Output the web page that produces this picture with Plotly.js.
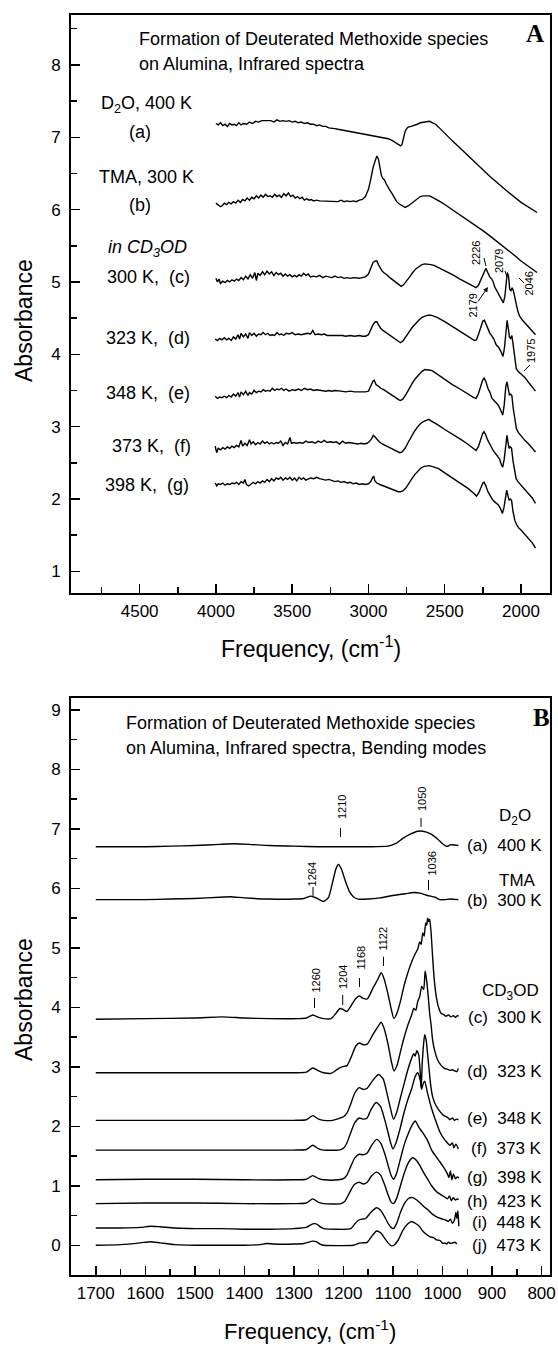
<!DOCTYPE html>
<html>
<head>
<meta charset="utf-8">
<script src="https://cdn.plot.ly/plotly-3.0.1.min.js"></script>
<style>html,body{margin:0;padding:0;background:#fff;}#chart{width:558px;height:1347px;}</style>
</head>
<body>
<div id="chart"></div>
<script>
// ---------------- Panel A data: [wavenumber cm-1, absorbance] ----------------
const A_a = [[4000,7.19],[3985,7.17],[3970,7.20],[3955,7.16],[3940,7.18],[3925,7.15],[3910,7.19],[3895,7.17],[3880,7.18],[3865,7.16],[3850,7.20],[3835,7.17],[3820,7.19],[3800,7.18],[3780,7.21],[3760,7.19],[3740,7.22],[3720,7.21],[3700,7.23],[3680,7.23],[3660,7.24],[3640,7.23],[3620,7.21],[3600,7.24],[3580,7.22],[3560,7.23],[3540,7.22],[3520,7.23],[3500,7.21],[3480,7.22],[3460,7.20],[3440,7.21],[3420,7.19],[3400,7.20],[3380,7.18],[3360,7.18],[3340,7.16],[3320,7.17],[3300,7.15],[3280,7.15],[3260,7.13],[3240,7.13],[3220,7.12],[3200,7.11],[3150,7.09],[3100,7.07],[3050,7.05],[3000,7.03],[2950,7.01],[2900,7.00],[2870,6.98],[2840,6.95],[2820,6.92],[2800,6.89],[2790,6.88],[2780,6.90],[2770,6.99],[2760,7.08],[2750,7.12],[2740,7.14],[2720,7.15],[2700,7.16],[2680,7.18],[2660,7.20],[2640,7.21],[2620,7.22],[2600,7.22],[2580,7.20],[2560,7.18],[2540,7.14],[2500,7.05],[2450,6.95],[2400,6.85],[2300,6.65],[2200,6.45],[2100,6.27],[2000,6.10],[1895,5.96]];
const A_b = [[4000,6.09],[3985,6.06],[3970,6.04],[3960,6.05],[3945,6.09],[3930,6.07],[3915,6.10],[3900,6.08],[3885,6.11],[3870,6.09],[3855,6.13],[3840,6.10],[3825,6.14],[3810,6.12],[3795,6.16],[3780,6.13],[3765,6.17],[3750,6.15],[3735,6.19],[3720,6.16],[3705,6.20],[3690,6.17],[3675,6.21],[3660,6.18],[3645,6.19],[3630,6.17],[3615,6.21],[3600,6.18],[3585,6.20],[3570,6.17],[3555,6.22],[3540,6.19],[3525,6.23],[3510,6.18],[3495,6.20],[3480,6.16],[3465,6.18],[3450,6.15],[3435,6.17],[3420,6.13],[3405,6.15],[3390,6.13],[3375,6.14],[3360,6.12],[3340,6.13],[3320,6.12],[3300,6.12],[3280,6.11],[3260,6.12],[3240,6.11],[3220,6.12],[3200,6.11],[3180,6.13],[3160,6.11],[3140,6.12],[3120,6.11],[3100,6.12],[3080,6.11],[3060,6.13],[3040,6.14],[3020,6.18],[3000,6.28],[2985,6.42],[2970,6.58],[2955,6.68],[2945,6.74],[2935,6.70],[2925,6.58],[2915,6.47],[2905,6.43],[2895,6.41],[2885,6.36],[2875,6.33],[2860,6.27],[2845,6.22],[2830,6.16],[2815,6.11],[2800,6.08],[2780,6.05],[2760,6.03],[2740,6.05],[2720,6.08],[2700,6.12],[2680,6.15],[2660,6.18],[2640,6.19],[2620,6.19],[2600,6.19],[2580,6.17],[2560,6.15],[2530,6.11],[2500,6.07],[2450,6.00],[2400,5.93],[2350,5.86],[2300,5.79],[2250,5.71],[2200,5.63],[2150,5.55],[2100,5.46],[2050,5.38],[2000,5.29],[1950,5.21],[1895,5.13]];
const A_c = [[4000,5.05],[3990,5.00],[3980,5.04],[3970,4.98],[3955,5.01],[3940,4.99],[3925,5.02],[3910,5.00],[3895,5.03],[3880,5.01],[3865,5.04],[3850,5.02],[3835,5.06],[3820,5.03],[3805,5.08],[3790,5.04],[3775,5.10],[3760,5.05],[3745,5.13],[3735,5.02],[3725,5.12],[3710,5.09],[3695,5.14],[3680,5.10],[3665,5.15],[3650,5.11],[3635,5.14],[3620,5.09],[3605,5.13],[3590,5.10],[3575,5.12],[3560,5.08],[3545,5.11],[3530,5.08],[3515,5.10],[3500,5.07],[3485,5.09],[3470,5.07],[3455,5.10],[3440,5.08],[3425,5.12],[3410,5.09],[3395,5.11],[3380,5.07],[3360,5.08],[3340,5.07],[3320,5.09],[3300,5.06],[3280,5.08],[3260,5.07],[3240,5.06],[3220,5.08],[3200,5.06],[3180,5.07],[3160,5.05],[3140,5.06],[3120,5.05],[3100,5.06],[3080,5.05],[3060,5.05],[3040,5.06],[3020,5.07],[3000,5.11],[2985,5.20],[2970,5.27],[2955,5.29],[2945,5.29],[2935,5.24],[2925,5.20],[2910,5.15],[2895,5.12],[2880,5.10],[2860,5.06],[2840,5.03],[2820,4.99],[2800,4.96],[2785,4.94],[2770,4.96],[2750,5.01],[2730,5.07],[2710,5.13],[2690,5.18],[2670,5.21],[2650,5.24],[2630,5.25],[2610,5.25],[2590,5.24],[2570,5.23],[2550,5.21],[2500,5.16],[2450,5.10],[2400,5.04],[2350,4.98],[2320,4.95],[2295,4.92],[2280,4.95],[2265,5.02],[2250,5.10],[2238,5.17],[2230,5.19],[2218,5.13],[2205,5.07],[2192,5.04],[2182,5.00],[2172,4.93],[2162,4.89],[2150,4.86],[2140,4.80],[2125,4.74],[2116,4.71],[2106,4.80],[2097,5.00],[2090,5.13],[2082,5.08],[2074,4.90],[2066,4.88],[2058,4.92],[2050,4.88],[2040,4.80],[2030,4.68],[2020,4.59],[2010,4.53],[1990,4.47],[1965,4.41],[1940,4.35],[1905,4.27]];
const A_d = [[4005,4.21],[3990,4.19],[3975,4.22],[3960,4.20],[3945,4.23],[3930,4.20],[3915,4.22],[3900,4.19],[3885,4.24],[3870,4.21],[3855,4.27],[3845,4.21],[3835,4.29],[3820,4.24],[3805,4.28],[3790,4.22],[3780,4.30],[3765,4.26],[3750,4.29],[3735,4.25],[3720,4.28],[3705,4.27],[3690,4.30],[3675,4.27],[3660,4.29],[3645,4.26],[3630,4.27],[3615,4.26],[3600,4.30],[3585,4.27],[3570,4.28],[3555,4.26],[3540,4.29],[3520,4.28],[3500,4.30],[3480,4.27],[3460,4.28],[3440,4.27],[3420,4.28],[3400,4.29],[3380,4.28],[3365,4.33],[3350,4.27],[3330,4.28],[3310,4.27],[3290,4.28],[3270,4.26],[3250,4.26],[3230,4.27],[3210,4.26],[3190,4.27],[3170,4.26],[3150,4.25],[3120,4.26],[3090,4.25],[3060,4.26],[3040,4.25],[3020,4.25],[3000,4.27],[2985,4.34],[2970,4.41],[2955,4.45],[2945,4.45],[2935,4.41],[2920,4.36],[2905,4.33],[2885,4.30],[2860,4.26],[2840,4.23],[2820,4.20],[2800,4.17],[2790,4.16],[2775,4.18],[2750,4.25],[2730,4.32],[2710,4.38],[2690,4.43],[2670,4.47],[2650,4.51],[2630,4.53],[2610,4.54],[2590,4.54],[2570,4.53],[2550,4.51],[2500,4.45],[2450,4.38],[2400,4.31],[2350,4.25],[2305,4.19],[2292,4.20],[2278,4.28],[2264,4.38],[2250,4.46],[2240,4.47],[2230,4.42],[2217,4.33],[2204,4.29],[2190,4.25],[2178,4.21],[2163,4.13],[2148,4.10],[2132,4.04],[2118,3.97],[2108,4.10],[2098,4.38],[2091,4.47],[2083,4.35],[2076,4.24],[2068,4.22],[2060,4.26],[2051,4.12],[2041,3.95],[2031,3.80],[2018,3.76],[2000,3.73],[1975,3.68],[1950,3.61],[1925,3.55],[1905,3.49]];
const A_e = [[4005,3.42],[3990,3.39],[3975,3.41],[3960,3.40],[3945,3.42],[3930,3.40],[3915,3.43],[3900,3.41],[3885,3.45],[3870,3.42],[3855,3.47],[3845,3.41],[3835,3.48],[3820,3.44],[3805,3.49],[3790,3.43],[3780,3.47],[3765,3.45],[3750,3.50],[3735,3.47],[3720,3.49],[3705,3.48],[3690,3.51],[3675,3.49],[3660,3.50],[3645,3.49],[3630,3.53],[3615,3.50],[3600,3.52],[3585,3.51],[3570,3.53],[3555,3.50],[3540,3.52],[3520,3.49],[3500,3.51],[3480,3.50],[3460,3.52],[3440,3.50],[3420,3.53],[3400,3.51],[3380,3.52],[3360,3.50],[3340,3.51],[3320,3.50],[3300,3.50],[3280,3.49],[3260,3.50],[3240,3.49],[3220,3.50],[3200,3.49],[3180,3.49],[3150,3.48],[3120,3.49],[3090,3.48],[3060,3.48],[3040,3.47],[3020,3.48],[3000,3.49],[2985,3.56],[2970,3.63],[2962,3.64],[2950,3.58],[2935,3.56],[2920,3.53],[2900,3.51],[2880,3.48],[2860,3.46],[2840,3.43],[2820,3.40],[2800,3.37],[2790,3.36],[2775,3.38],[2750,3.46],[2730,3.54],[2710,3.61],[2690,3.67],[2670,3.72],[2650,3.76],[2630,3.79],[2610,3.79],[2595,3.78],[2580,3.77],[2560,3.74],[2500,3.66],[2450,3.58],[2400,3.52],[2350,3.45],[2310,3.40],[2295,3.39],[2280,3.45],[2265,3.55],[2252,3.64],[2242,3.67],[2230,3.62],[2217,3.53],[2203,3.47],[2190,3.39],[2178,3.36],[2163,3.33],[2150,3.30],[2136,3.24],[2120,3.16],[2110,3.30],[2100,3.55],[2092,3.62],[2084,3.50],[2076,3.44],[2068,3.45],[2060,3.43],[2051,3.25],[2041,3.09],[2030,2.97],[2018,2.92],[2000,2.87],[1975,2.81],[1950,2.76],[1925,2.70],[1905,2.65]];
const A_f = [[4005,2.73],[3995,2.64],[3985,2.70],[3970,2.68],[3955,2.71],[3940,2.69],[3925,2.72],[3910,2.70],[3895,2.73],[3880,2.71],[3865,2.74],[3850,2.72],[3835,2.81],[3825,2.73],[3810,2.77],[3795,2.74],[3780,2.82],[3770,2.76],[3755,2.79],[3740,2.75],[3725,2.78],[3710,2.76],[3695,2.80],[3680,2.77],[3665,2.79],[3650,2.76],[3635,2.78],[3620,2.76],[3605,2.78],[3590,2.77],[3575,2.80],[3560,2.74],[3545,2.78],[3530,2.76],[3515,2.85],[3505,2.77],[3490,2.78],[3470,2.77],[3450,2.78],[3430,2.77],[3410,2.80],[3390,2.78],[3370,2.79],[3350,2.77],[3330,2.80],[3310,2.78],[3290,2.81],[3270,2.78],[3250,2.79],[3230,2.78],[3210,2.79],[3190,2.76],[3170,2.80],[3150,2.77],[3130,2.78],[3110,2.77],[3090,2.77],[3070,2.76],[3050,2.77],[3030,2.76],[3010,2.77],[2995,2.79],[2980,2.83],[2968,2.88],[2958,2.86],[2945,2.82],[2930,2.79],[2910,2.76],[2890,2.74],[2870,2.72],[2850,2.70],[2830,2.68],[2810,2.66],[2795,2.64],[2780,2.65],[2760,2.70],[2740,2.78],[2720,2.86],[2700,2.93],[2680,2.99],[2660,3.04],[2640,3.07],[2620,3.09],[2605,3.10],[2590,3.08],[2570,3.05],[2550,3.03],[2500,2.96],[2450,2.90],[2400,2.83],[2350,2.76],[2310,2.69],[2295,2.67],[2280,2.72],[2265,2.82],[2252,2.90],[2243,2.93],[2232,2.89],[2220,2.82],[2206,2.76],[2192,2.70],[2180,2.66],[2168,2.63],[2155,2.60],[2140,2.55],[2128,2.47],[2120,2.44],[2110,2.55],[2100,2.78],[2092,2.88],[2085,2.78],[2078,2.70],[2070,2.72],[2062,2.70],[2052,2.52],[2042,2.37],[2032,2.28],[2020,2.24],[2000,2.19],[1975,2.13],[1950,2.07],[1925,2.01],[1905,1.94]];
const A_g = [[4005,2.22],[3995,2.18],[3985,2.21],[3970,2.20],[3955,2.22],[3940,2.19],[3925,2.21],[3910,2.20],[3895,2.22],[3880,2.21],[3865,2.23],[3850,2.20],[3835,2.24],[3820,2.22],[3810,2.27],[3800,2.20],[3785,2.18],[3770,2.21],[3755,2.23],[3740,2.21],[3725,2.24],[3710,2.22],[3695,2.25],[3680,2.23],[3665,2.27],[3650,2.24],[3635,2.28],[3620,2.25],[3605,2.29],[3590,2.27],[3575,2.30],[3560,2.26],[3545,2.29],[3530,2.27],[3515,2.30],[3500,2.26],[3485,2.29],[3470,2.25],[3455,2.30],[3440,2.27],[3425,2.29],[3410,2.26],[3395,2.28],[3380,2.29],[3360,2.28],[3340,2.30],[3320,2.28],[3300,2.27],[3280,2.26],[3260,2.27],[3240,2.25],[3220,2.24],[3200,2.25],[3180,2.23],[3160,2.24],[3140,2.22],[3120,2.23],[3100,2.21],[3080,2.22],[3060,2.20],[3040,2.21],[3020,2.20],[3000,2.21],[2985,2.24],[2972,2.30],[2965,2.31],[2958,2.25],[2945,2.22],[2925,2.20],[2900,2.18],[2875,2.16],[2850,2.14],[2825,2.12],[2805,2.10],[2790,2.10],[2775,2.11],[2755,2.15],[2735,2.22],[2715,2.28],[2695,2.34],[2675,2.39],[2655,2.43],[2635,2.45],[2615,2.46],[2600,2.46],[2585,2.45],[2570,2.44],[2555,2.42],[2540,2.42],[2500,2.36],[2450,2.29],[2400,2.22],[2350,2.15],[2310,2.08],[2292,2.04],[2278,2.08],[2263,2.16],[2250,2.22],[2242,2.23],[2230,2.18],[2217,2.10],[2202,2.04],[2190,2.00],[2178,1.97],[2165,1.95],[2150,1.92],[2135,1.87],[2122,1.80],[2112,1.88],[2102,2.05],[2094,2.12],[2086,2.05],[2078,1.98],[2070,2.00],[2062,1.98],[2052,1.82],[2040,1.70],[2030,1.65],[2015,1.60],[2000,1.57],[1975,1.51],[1950,1.45],[1925,1.39],[1905,1.32]];

// ---------------- Panel B data ----------------
const B_a = [[1700,6.70],[1650,6.70],[1600,6.70],[1550,6.71],[1500,6.72],[1450,6.74],[1420,6.75],[1390,6.74],[1350,6.72],[1300,6.71],[1250,6.70],[1200,6.70],[1150,6.70],[1110,6.71],[1095,6.75],[1080,6.84],[1065,6.91],[1050,6.96],[1040,6.96],[1025,6.92],[1010,6.83],[1000,6.75],[993,6.71],[988,6.71],[985,6.73],[975,6.73],[968,6.72]];
const B_b = [[1700,5.81],[1650,5.81],[1600,5.81],[1550,5.82],[1500,5.83],[1450,5.85],[1428,5.86],[1400,5.84],[1350,5.82],[1300,5.82],[1280,5.83],[1266,5.87],[1255,5.84],[1240,5.78],[1230,5.85],[1222,6.10],[1215,6.33],[1210,6.40],[1204,6.32],[1196,6.12],[1188,5.95],[1180,5.86],[1170,5.82],[1150,5.82],[1126,5.84],[1100,5.88],[1075,5.91],[1058,5.93],[1045,5.92],[1030,5.88],[1015,5.85],[1005,5.81],[995,5.81],[985,5.82],[968,5.81]];
const B_c = [[1700,3.80],[1600,3.81],[1500,3.82],[1445,3.84],[1400,3.82],[1350,3.81],[1290,3.81],[1275,3.82],[1262,3.87],[1250,3.83],[1240,3.81],[1225,3.81],[1215,3.90],[1207,3.98],[1200,3.96],[1193,3.93],[1185,4.02],[1175,4.15],[1168,4.19],[1160,4.15],[1152,4.14],[1140,4.33],[1130,4.48],[1124,4.58],[1118,4.48],[1110,4.22],[1103,3.95],[1098,3.81],[1092,3.90],[1085,4.10],[1078,4.35],[1070,4.58],[1062,4.77],[1055,4.90],[1050,4.98],[1046,5.10],[1043,5.06],[1040,5.25],[1037,5.20],[1034,5.42],[1032,5.38],[1030,5.50],[1028,5.44],[1026,5.48],[1023,5.25],[1020,4.85],[1017,4.50],[1013,4.20],[1008,4.00],[1003,3.90],[998,3.88],[993,3.85],[988,3.87],[983,3.84],[978,3.86],[974,3.83],[970,3.86],[967,3.85]];
const B_d = [[1700,2.90],[1600,2.90],[1500,2.90],[1400,2.90],[1300,2.90],[1275,2.91],[1262,2.98],[1250,2.93],[1240,2.90],[1225,2.89],[1212,2.96],[1203,3.00],[1193,3.02],[1185,3.15],[1175,3.35],[1168,3.40],[1160,3.37],[1152,3.38],[1140,3.55],[1130,3.68],[1124,3.75],[1118,3.65],[1110,3.38],[1103,3.08],[1098,2.93],[1092,3.02],[1085,3.25],[1078,3.48],[1070,3.70],[1062,3.88],[1058,3.98],[1054,3.95],[1050,4.10],[1046,4.18],[1042,4.35],[1038,4.30],[1035,4.61],[1032,4.45],[1029,4.20],[1026,3.90],[1023,3.70],[1020,3.45],[1016,3.28],[1010,3.12],[1005,3.05],[1000,3.00],[995,2.97],[990,2.96],[985,2.94],[980,2.95],[975,2.93],[971,2.92],[968,2.97]];
const B_e = [[1700,2.10],[1600,2.10],[1500,2.10],[1400,2.10],[1300,2.10],[1275,2.11],[1262,2.18],[1250,2.12],[1240,2.10],[1222,2.10],[1210,2.13],[1200,2.16],[1193,2.22],[1185,2.38],[1177,2.56],[1168,2.65],[1160,2.62],[1152,2.64],[1140,2.78],[1129,2.87],[1120,2.80],[1112,2.55],[1105,2.30],[1099,2.12],[1092,2.25],[1085,2.48],[1078,2.70],[1070,2.95],[1062,3.15],[1058,3.22],[1055,3.18],[1052,3.27],[1048,3.20],[1045,2.90],[1043,2.65],[1041,3.05],[1038,3.40],[1036,3.54],[1033,3.45],[1030,3.20],[1027,2.95],[1024,2.70],[1020,2.50],[1015,2.38],[1008,2.28],[1000,2.20],[995,2.17],[990,2.15],[985,2.11],[980,2.14],[976,2.10],[972,2.12],[968,2.11]];
const B_f = [[1700,1.60],[1600,1.60],[1500,1.60],[1400,1.60],[1300,1.60],[1275,1.61],[1262,1.68],[1250,1.62],[1240,1.60],[1210,1.60],[1200,1.63],[1193,1.72],[1185,1.90],[1177,2.06],[1168,2.14],[1160,2.12],[1152,2.14],[1145,2.27],[1134,2.40],[1125,2.33],[1118,2.15],[1110,1.90],[1104,1.70],[1100,1.62],[1094,1.72],[1086,1.95],[1078,2.22],[1070,2.45],[1062,2.64],[1055,2.84],[1050,2.90],[1045,2.78],[1042,2.62],[1039,2.72],[1036,2.76],[1030,2.55],[1022,2.30],[1012,2.05],[1005,1.90],[998,1.80],[990,1.72],[985,1.68],[980,1.72],[977,1.64],[973,1.70],[968,1.62]];
const B_g = [[1700,1.10],[1600,1.11],[1500,1.11],[1400,1.10],[1300,1.10],[1275,1.11],[1262,1.17],[1250,1.12],[1240,1.10],[1210,1.10],[1200,1.12],[1193,1.18],[1185,1.33],[1177,1.47],[1168,1.53],[1160,1.52],[1152,1.55],[1143,1.68],[1133,1.78],[1125,1.72],[1117,1.55],[1110,1.35],[1104,1.18],[1099,1.11],[1093,1.20],[1085,1.45],[1077,1.70],[1068,1.90],[1060,2.04],[1055,2.09],[1050,2.02],[1045,1.95],[1038,1.87],[1030,1.76],[1022,1.60],[1012,1.48],[1005,1.40],[997,1.30],[990,1.20],[987,1.14],[984,1.25],[981,1.10],[978,1.20],[974,1.12],[970,1.15],[967,1.13]];
const B_h = [[1700,0.70],[1600,0.71],[1500,0.71],[1400,0.70],[1300,0.70],[1275,0.71],[1262,0.78],[1250,0.72],[1240,0.70],[1205,0.70],[1197,0.74],[1188,0.88],[1178,1.02],[1168,1.06],[1160,1.03],[1152,1.06],[1143,1.17],[1133,1.23],[1125,1.18],[1117,1.02],[1110,0.85],[1104,0.73],[1099,0.70],[1093,0.78],[1085,1.00],[1077,1.22],[1068,1.40],[1060,1.47],[1052,1.42],[1045,1.33],[1038,1.22],[1030,1.11],[1022,1.00],[1012,0.90],[1005,0.86],[997,0.82],[990,0.78],[986,0.83],[982,0.75],[978,0.80],[974,0.76],[970,0.78],[967,0.77]];
const B_i = [[1700,0.29],[1650,0.29],[1610,0.30],[1590,0.32],[1570,0.31],[1540,0.29],[1500,0.28],[1450,0.28],[1400,0.27],[1350,0.27],[1300,0.28],[1275,0.30],[1262,0.36],[1255,0.36],[1245,0.30],[1240,0.28],[1185,0.28],[1178,0.35],[1170,0.42],[1163,0.44],[1155,0.45],[1145,0.55],[1133,0.63],[1125,0.59],[1117,0.48],[1110,0.37],[1104,0.30],[1099,0.28],[1093,0.36],[1085,0.55],[1077,0.70],[1068,0.79],[1060,0.80],[1052,0.76],[1045,0.71],[1038,0.65],[1030,0.60],[1020,0.52],[1010,0.47],[1000,0.44],[993,0.42],[988,0.40],[984,0.44],[980,0.37],[976,0.42],[973,0.55],[971,0.45],[969,0.58],[967,0.32]];
const B_j = [[1700,0.00],[1650,0.01],[1610,0.04],[1590,0.06],[1570,0.04],[1540,0.01],[1500,0.00],[1450,0.00],[1400,0.00],[1370,0.01],[1355,0.03],[1340,0.02],[1300,0.02],[1280,0.03],[1262,0.07],[1255,0.06],[1245,0.01],[1240,0.00],[1180,0.00],[1170,0.03],[1163,0.04],[1152,0.05],[1143,0.15],[1133,0.24],[1125,0.21],[1117,0.12],[1110,0.04],[1103,-0.01],[1098,0.00],[1090,0.08],[1080,0.25],[1070,0.36],[1062,0.40],[1055,0.37],[1047,0.32],[1040,0.24],[1032,0.18],[1025,0.14],[1018,0.13],[1012,0.09],[1005,0.08],[999,0.03],[995,0.04],[992,0.02],[988,0.05],[984,0.03],[980,0.04],[975,0.05],[971,0.02]];

// tick values / labels
const A_xTicks = [4500,4000,3500,3000,2500,2000];
const A_yTicks = [1,2,3,4,5,6,7,8];
const B_xTicks = [1700,1600,1500,1400,1300,1200,1100,1000,900,800];
const B_yTicks = [0,1,2,3,4,5,6,7,8,9];

// ---------------- helpers ----------------
const W = 558, H = 1347;
const px = x => x / W;
const py = y => 1 - y / H;
const FONT = 'Liberation Sans, Arial, sans-serif';

function trace(arr, xa, ya, shape) {
  return {x: arr.map(p => p[0]), y: arr.map(p => p[1]), xaxis: xa, yaxis: ya,
    type: 'scatter', mode: 'lines', hoverinfo: 'skip',
    line: {color: '#000', width: 1.4, shape: shape || 'linear', smoothing: 0.6}};
}
const data = [];
[A_a, A_b, A_c, A_d, A_e, A_f, A_g].forEach(s => data.push(trace(s, 'x', 'y')));
[B_a, B_b, B_c, B_d, B_e, B_f, B_g, B_h, B_i, B_j].forEach(s => data.push(trace(s, 'x2', 'y2', 'spline')));

const domX = [px(71), px(550)];
function axisCommon() {
  return {showgrid: false, zeroline: false, showline: true, mirror: true, linewidth: 2, linecolor: '#000',
    ticks: 'inside', ticklen: 9, tickwidth: 1.5, tickcolor: '#000',
    tickfont: {family: FONT, size: 17, color: '#000'}, fixedrange: true};
}
const layout = {
  width: W, height: H, margin: {l: 0, r: 0, t: 0, b: 0},
  paper_bgcolor: '#fff', plot_bgcolor: '#fff', showlegend: false,
  xaxis: Object.assign(axisCommon(), {domain: domX, range: [4950, 1810], anchor: 'y',
    tickmode: 'array', tickvals: A_xTicks, ticktext: A_xTicks.map(String), ticklabelstandoff: 2,
    minor: {dtick: 250, tick0: 0, ticks: 'inside', ticklen: 6, tickwidth: 1.5, tickcolor: '#000'}}),
  yaxis: Object.assign(axisCommon(), {domain: [py(593), py(15)], range: [0.7, 8.69], anchor: 'x',
    tickmode: 'array', tickvals: A_yTicks, ticktext: A_yTicks.map(String), ticklabelstandoff: 5,
    minor: {dtick: 0.5, tick0: 0, ticks: 'inside', ticklen: 6, tickwidth: 1.5, tickcolor: '#000'}}),
  xaxis2: Object.assign(axisCommon(), {domain: domX, range: [1750, 783], anchor: 'y2',
    tickmode: 'array', tickvals: B_xTicks, ticktext: B_xTicks.map(String), ticklabelstandoff: 2,
    minor: {dtick: 50, tick0: 0, ticks: 'inside', ticklen: 6, tickwidth: 1.5, tickcolor: '#000'}}),
  yaxis2: Object.assign(axisCommon(), {domain: [py(1275), py(698)], range: [-0.5, 9.2], anchor: 'x2',
    tickmode: 'array', tickvals: B_yTicks, ticktext: B_yTicks.map(String), ticklabelstandoff: 5,
    minor: {dtick: 0.5, tick0: 0, ticks: 'inside', ticklen: 6, tickwidth: 1.5, tickcolor: '#000'}}),
  annotations: [], shapes: []
};

function txt(text, x, y, opt) {
  opt = opt || {};
  layout.annotations.push(Object.assign({
    text: text, xref: 'paper', yref: 'paper', x: px(x), y: py(y),
    xanchor: opt.xanchor || 'center', yanchor: 'middle', showarrow: false,
    textangle: opt.angle || 0,
    font: {family: opt.family || FONT, size: opt.size || 18, color: '#000'}
  }, opt.extra || {}));
}
function seg(x0, y0, x1, y1) {
  layout.shapes.push({type: 'line', xref: 'paper', yref: 'paper', x0: px(x0), y0: py(y0), x1: px(x1), y1: py(y1),
    line: {color: '#000', width: 1}});
}

// axis titles
txt('Absorbance', 24, 321, {angle: -90, size: 23});
txt('Absorbance', 24, 1000, {angle: -90, size: 23});
txt('Frequency, (cm<sup>-1</sup>)', 311, 647, {size: 23});
txt('Frequency, (cm<sup>-1</sup>)', 310, 1330, {size: 22});

// Panel A texts
txt('Formation of Deuterated Methoxide species', 137, 39, {xanchor: 'left', size: 18});
txt('on Alumina, Infrared spectra', 137, 64, {xanchor: 'left', size: 18});
txt('<b>A</b>', 535, 33, {family: 'Liberation Serif, Times New Roman, serif', size: 25});
txt('D<sub>2</sub>O, 400 K', 146, 105);
txt('(a)', 140, 132);
txt('TMA, 300 K', 146, 177);
txt('(b)', 140, 205);
txt('<i>in CD<sub>3</sub>OD</i>', 147, 248);
txt('300 K,  (c)', 148, 277);
txt('323 K,  (d)', 148, 338);
txt('348 K,  (e)', 148, 393);
txt('373 K,  (f)', 151, 446);
txt('398 K,  (g)', 147, 485);

// Panel A peak labels
txt('2226', 476, 253, {angle: -90, size: 11});
seg(484, 258, 486, 266);
txt('2079', 499, 261, {angle: -90, size: 11});
seg(505, 271, 507, 277);
txt('2046', 528.5, 284, {angle: -90, size: 11});
seg(519, 278, 524, 283);
txt('2179', 472.5, 306, {angle: -90, size: 11});
layout.annotations.push({text: '', xref: 'paper', yref: 'paper', x: px(488), y: py(287),
  ax: -11, ay: 16, axref: 'pixel', ayref: 'pixel', showarrow: true, arrowhead: 2, arrowsize: 1, arrowwidth: 1, arrowcolor: '#000'});
txt('1975', 531, 351, {angle: -90, size: 11});
seg(524, 371, 530, 365);

// Panel B texts
txt('Formation of Deuterated Methoxide species', 124, 723, {xanchor: 'left', size: 18});
txt('on Alumina, Infrared spectra, Bending modes', 124, 748, {xanchor: 'left', size: 18});
txt('<b>B</b>', 541, 717, {family: 'Liberation Serif, Times New Roman, serif', size: 25});
txt('D<sub>2</sub>O', 515, 817, {size: 17});
txt('(a)  400 K', 544, 846, {xanchor: 'right', size: 17});
txt('TMA', 517, 880, {size: 17});
txt('(b)  300 K', 544, 900, {xanchor: 'right', size: 17});
txt('CD<sub>3</sub>OD', 510, 992, {size: 17});
txt('(c)  300 K', 544, 1017, {xanchor: 'right', size: 17});
txt('(d)  323 K', 544, 1071, {xanchor: 'right', size: 17});
txt('(e)  348 K', 544, 1118, {xanchor: 'right', size: 17});
txt('(f)  373 K', 544, 1148, {xanchor: 'right', size: 17});
txt('(g)  398 K', 544, 1177, {xanchor: 'right', size: 17});
txt('(h)  423 K', 544, 1201, {xanchor: 'right', size: 17});
txt('(i)  448 K', 544, 1222, {xanchor: 'right', size: 17});
txt('(j)  473 K', 544, 1245, {xanchor: 'right', size: 17});

// Panel B peak labels
txt('1210', 341.6, 807.5, {angle: -90, size: 11}); seg(340.5, 828, 340.5, 837);
txt('1050', 422, 799, {angle: -90, size: 11}); seg(421, 818, 421, 827);
txt('1264', 312.4, 874, {angle: -90, size: 11}); seg(313, 887, 313, 897);
txt('1036', 431.6, 864, {angle: -90, size: 11}); seg(428.5, 880, 428.5, 890);
txt('1260', 315, 980.5, {angle: -90, size: 11}); seg(314.5, 998, 314.5, 1008);
txt('1204', 343, 977, {angle: -90, size: 11}); seg(342.7, 995, 342.7, 1005);
txt('1168', 360, 957.5, {angle: -90, size: 11}); seg(359.5, 978, 359.5, 987);
txt('1122', 383.3, 938.3, {angle: -90, size: 11}); seg(383.5, 956.7, 383.5, 966);

Plotly.newPlot('chart', data, layout, {displayModeBar: false, staticPlot: true});
</script>
</body>
</html>
